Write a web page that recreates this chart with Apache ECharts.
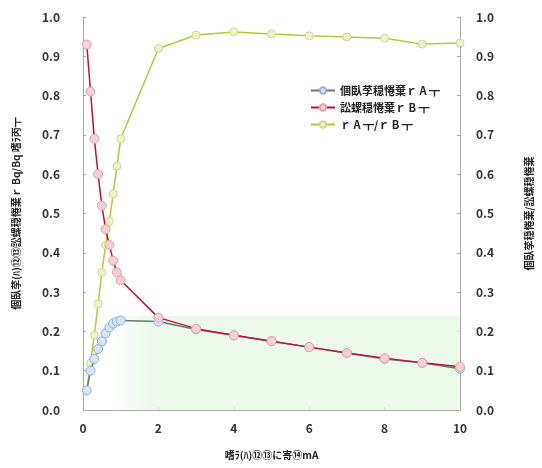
<!DOCTYPE html>
<html>
<head>
<meta charset="utf-8">
<script src="https://cdn.jsdelivr.net/npm/echarts@6/dist/echarts.min.js"></script>
<style>
  html, body { margin: 0; padding: 0; background: #fff; }
  #chart { width: 542px; height: 468px; }
</style>
</head>
<body>
<div id="chart"></div>
<script>
// データ
const xValues = [0.1, 0.2, 0.3, 0.4, 0.5, 0.6, 0.7, 0.8, 0.9, 1.0, 2, 3, 4, 5, 6, 7, 8, 9, 10];
const seriesA = [0.05, 0.10, 0.13, 0.155, 0.175, 0.195, 0.21, 0.22, 0.225, 0.228, 0.225, 0.205, 0.19, 0.175, 0.16, 0.145, 0.13, 0.12, 0.105];
const seriesB = [0.93, 0.81, 0.69, 0.60, 0.52, 0.46, 0.42, 0.38, 0.35, 0.33, 0.235, 0.207, 0.19, 0.175, 0.16, 0.145, 0.132, 0.12, 0.11];
const ratio = [0.05, 0.12, 0.19, 0.27, 0.35, 0.42, 0.48, 0.55, 0.62, 0.69, 0.92, 0.954, 0.962, 0.957, 0.952, 0.949, 0.946, 0.931, 0.934];

const nameA = '個臥莩穏惓棄ｒ A ┳';
const nameB = '訟螺穏惓棄ｒ B ┳';
const nameR = 'ｒ A ┳/ｒ B ┳';
const xName = '嗜ﾗ(ﾊ)⑫⑬に寄⑭mA';
const yLeftName = '個臥莩(ﾊ)⑫⑬訟螺穏惓棄ｒ Bq/Bq 嗜ﾗ丙┳';
const yRightName = '個臥莩穏惓棄/訟螺穏惓棄';

const font = '"Noto Sans CJK JP", "DejaVu Sans", sans-serif';

const pairs = (ys) => xValues.map((x, i) => [x, ys[i]]);

const chart = echarts.init(document.getElementById('chart'));

const yAxisBase = {
  type: 'value',
  min: 0,
  max: 1,
  interval: 0.1,
  nameLocation: 'middle',
  nameTextStyle: { fontFamily: font, fontSize: 10, fontWeight: 'bold', color: '#222' },
  axisLine: { show: true, lineStyle: { color: '#aaa' } },
  axisTick: { show: true, inside: true, length: 3, lineStyle: { color: '#aaa' } },
  axisLabel: {
    fontFamily: font, fontSize: 12, fontWeight: 'bold', color: '#333',
    formatter: (v) => v.toFixed(1)
  },
  splitLine: { show: false }
};

chart.setOption({
  animation: false,
  grid: { left: 83, right: 73, top: 17, bottom: 58 },
  legend: {
    data: [nameA, nameB, nameR],
    orient: 'vertical',
    left: 305,
    top: 80,
    itemGap: 6,
    itemWidth: 24,
    itemHeight: 8,
    textStyle: { fontFamily: font, fontSize: 11, fontWeight: 'bold', color: '#222' }
  },
  xAxis: {
    type: 'value',
    min: 0,
    max: 10,
    interval: 2,
    name: xName,
    nameLocation: 'middle',
    nameGap: 40,
    nameTextStyle: { fontFamily: font, fontSize: 10, fontWeight: 'bold', color: '#222' },
    axisLine: { lineStyle: { color: '#aaa' } },
    axisTick: { show: true, inside: true, length: 3, lineStyle: { color: '#aaa' } },
    axisLabel: { fontFamily: font, fontSize: 12, fontWeight: 'bold', color: '#333', margin: 12 },
    splitLine: { show: false }
  },
  yAxis: [
    Object.assign({}, yAxisBase, {
      name: yLeftName, nameGap: 62, position: 'left',
      axisLabel: Object.assign({}, yAxisBase.axisLabel, { margin: 23 })
    }),
    Object.assign({}, yAxisBase, {
      name: yRightName, nameGap: 64, position: 'right',
      axisLabel: Object.assign({}, yAxisBase.axisLabel, { margin: 16 })
    })
  ],
  series: [
    {
      name: nameA,
      type: 'line',
      data: pairs(seriesA),
      symbol: 'circle',
      symbolSize: 9,
      lineStyle: { color: '#5f7f6c', width: 1.5 },
      itemStyle: { color: '#d6e6f6', borderColor: '#8eb0d6', borderWidth: 1 },
      markArea: {
        silent: true,
        itemStyle: {
          color: new echarts.graphic.LinearGradient(0, 0, 1, 0, [
            { offset: 0, color: 'rgba(228,246,226,0.1)' },
            { offset: 0.12, color: 'rgba(228,246,226,0.7)' },
            { offset: 1, color: 'rgba(228,246,226,0.7)' }
          ])
        },
        data: [[{ xAxis: 0.8, yAxis: 0 }, { xAxis: 10, yAxis: 0.24 }]]
      },
      z: 3
    },
    {
      name: nameB,
      type: 'line',
      data: pairs(seriesB),
      symbol: 'circle',
      symbolSize: 9,
      lineStyle: { color: '#c2103a', width: 1.5 },
      itemStyle: { color: '#f6d0d4', borderColor: '#e0a2aa', borderWidth: 1 },
      z: 4
    },
    {
      name: nameR,
      type: 'line',
      yAxisIndex: 1,
      data: pairs(ratio),
      symbol: 'circle',
      symbolSize: 8,
      lineStyle: { color: '#b9c43c', width: 1.5 },
      itemStyle: { color: '#eef3cc', borderColor: '#cfd88a', borderWidth: 1 },
      z: 2
    }
  ]
});
</script>
</body>
</html>
